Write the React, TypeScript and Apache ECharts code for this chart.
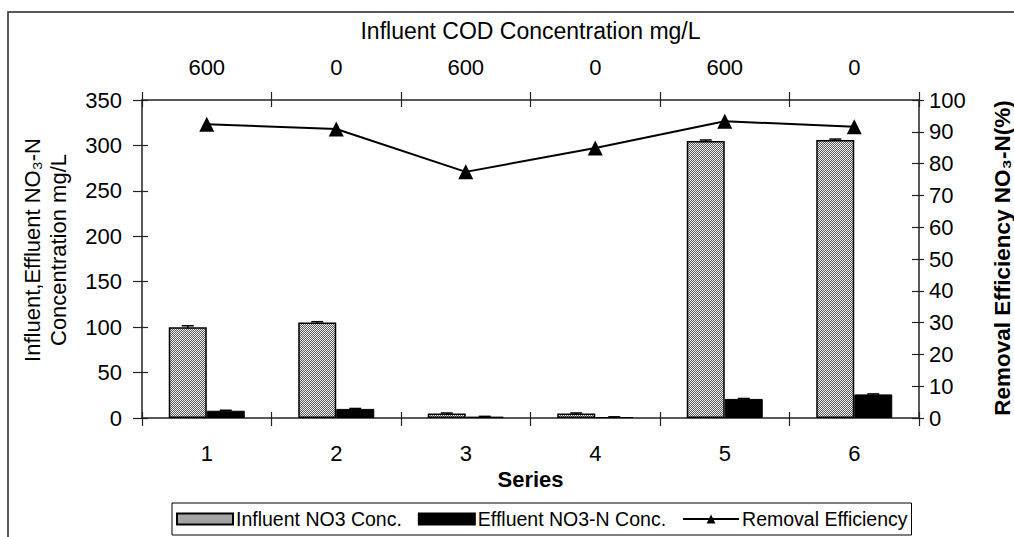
import React, { useEffect, useRef } from "react";
import * as echarts from "echarts";

const categories = ["1", "2", "3", "4", "5", "6"];
const codLabels = ["600", "0", "600", "0", "600", "0"];
const influent = [100, 105, 5, 5, 305, 306];
const effluent = [8, 10, 1.5, 1, 21, 26];
const removal = [92.4, 90.9, 77.4, 84.9, 93.3, 91.6];
const influentErr = [1.5, 1, 0.5, 0.5, 1, 1];
const effluentErr = [0.5, 0.5, 0.3, 0.3, 0.5, 0.5];

const FONT = "'Liberation Sans', Arial, sans-serif";

function makePattern() {
  const c = document.createElement("canvas");
  c.width = 2;
  c.height = 2;
  const ctx = c.getContext("2d")!;
  ctx.fillStyle = "#5a5a5a";
  ctx.fillRect(0, 0, 2, 2);
  ctx.fillStyle = "#f0f0f0";
  ctx.fillRect(0, 0, 1, 1);
  ctx.fillRect(1, 1, 1, 1);
  return c;
}

export default function App() {
  const ref = useRef<HTMLDivElement>(null);
  useEffect(() => {
    if (!ref.current) return;
    const chart = echarts.init(ref.current, null, { renderer: "svg" });
    const pattern: any = { image: makePattern(), repeat: "repeat", imageWidth: 2, imageHeight: 2 };
    const axisLine = { show: true, onZero: false, lineStyle: { color: "#222", width: 1.5 } };
    const noLine = { show: false, onZero: false };
    const tickStyle = { color: "#222", width: 1.2 };
    const errSeries = (vals: number[], errs: number[], offset: number) => ({
      type: "custom",
      xAxisIndex: 0,
      yAxisIndex: 0,
      silent: true,
      z: 5,
      data: vals.map((v, i) => [i, v, errs[i]]),
      renderItem: (params: any, api: any) => {
        const i = api.value(0);
        const v = api.value(1);
        const e = api.value(2);
        const top = api.coord([i, v + e]);
        const bot = api.coord([i, v - e]);
        const x = top[0] + offset;
        return {
          type: "group",
          children: [
            { type: "line", shape: { x1: x, y1: top[1], x2: x, y2: bot[1] }, style: { stroke: "#000", lineWidth: 1.5 } },
            { type: "line", shape: { x1: x - 6, y1: top[1], x2: x + 6, y2: top[1] }, style: { stroke: "#000", lineWidth: 1.5 } },
          ],
        };
      },
    });
    chart.setOption({
      animation: false,
      textStyle: { fontFamily: FONT, color: "#000" },
      grid: { left: 142, right: 95, top: 100, bottom: 119, containLabel: false },
      legend: {
        data: [
          { name: "Influent NO3 Conc.", icon: "rect" },
          { name: "Effluent NO3-N Conc.", icon: "rect" },
          { name: "Removal Efficiency" },
        ],
        left: 172,
        top: 503,
        orient: "horizontal",
        borderColor: "#000",
        borderWidth: 1,
        borderRadius: 0,
        padding: [6, 4, 6, 4],
        itemWidth: 56,
        itemHeight: 11,
        itemGap: 16,
        textStyle: { fontSize: 19.5, fontFamily: FONT, color: "#000", padding: [0, 0, 0, -2] },
      },
      xAxis: [
        {
          type: "category",
          data: categories,
          position: "bottom",
          axisLine,
          axisTick: { show: true, length: 8, lineStyle: tickStyle },
          axisLabel: { fontSize: 22, margin: 24, color: "#000", fontFamily: FONT },
          name: "Series",
          nameLocation: "middle",
          nameGap: 50,
          nameTextStyle: { fontSize: 22, fontWeight: "bold", color: "#000", fontFamily: FONT },
        },
        {
          type: "category",
          data: codLabels,
          position: "top",
          axisLine,
          axisTick: { show: true, length: 8, lineStyle: tickStyle },
          axisLabel: { fontSize: 22, margin: 22, color: "#000", fontFamily: FONT },
          name: "Influent COD Concentration mg/L",
          nameLocation: "middle",
          nameGap: 58,
          nameTextStyle: { fontSize: 23, color: "#000", fontFamily: FONT },
        },
        {
          type: "category",
          data: categories,
          position: "bottom",
          axisLine: noLine,
          axisTick: { show: true, inside: true, length: 6, lineStyle: tickStyle },
          axisLabel: { show: false },
        },
        {
          type: "category",
          data: codLabels,
          position: "top",
          axisLine: noLine,
          axisTick: { show: true, inside: true, length: 7, lineStyle: tickStyle },
          axisLabel: { show: false },
        },
      ],
      yAxis: [
        {
          type: "value",
          position: "left",
          min: 0,
          max: 350,
          interval: 50,
          axisLine,
          axisTick: { show: true, length: 9, lineStyle: tickStyle },
          axisLabel: { fontSize: 22, margin: 20, color: "#000", fontFamily: FONT },
          splitLine: { show: false },
        },
        {
          type: "value",
          position: "right",
          min: 0,
          max: 100,
          interval: 10,
          axisLine,
          axisTick: { show: true, length: 5, lineStyle: tickStyle },
          axisLabel: { fontSize: 22, margin: 10, color: "#000", fontFamily: FONT },
          splitLine: { show: false },
        },
        {
          type: "value",
          position: "left",
          min: 0,
          max: 350,
          interval: 50,
          axisLine: noLine,
          axisTick: { show: true, inside: true, length: 6, lineStyle: tickStyle },
          axisLabel: { show: false },
          splitLine: { show: false },
        },
        {
          type: "value",
          position: "right",
          min: 0,
          max: 100,
          interval: 10,
          axisLine: noLine,
          axisTick: { show: true, inside: true, length: 7, lineStyle: tickStyle },
          axisLabel: { show: false },
          splitLine: { show: false },
        },
      ],
      series: [
        {
          name: "Influent NO3 Conc.",
          type: "bar",
          xAxisIndex: 0,
          yAxisIndex: 0,
          data: influent,
          barWidth: 38,
          barGap: "0%",
          itemStyle: { color: pattern, borderColor: "#000", borderWidth: 1.5 },
        },
        {
          name: "Effluent NO3-N Conc.",
          type: "bar",
          xAxisIndex: 0,
          yAxisIndex: 0,
          data: effluent,
          barWidth: 38,
          barGap: "0%",
          itemStyle: { color: "#000", borderColor: "#000", borderWidth: 1 },
        },
        {
          name: "Removal Efficiency",
          type: "line",
          xAxisIndex: 0,
          yAxisIndex: 1,
          data: removal,
          symbol: "triangle",
          symbolSize: 15,
          z: 10,
          lineStyle: { color: "#000", width: 2 },
          itemStyle: { color: "#000" },
        },
        errSeries(influent, influentErr, -19),
        errSeries(effluent, effluentErr, 19),
      ],
      graphic: [
        {
          type: "rect",
          shape: { x: 8, y: 12, width: 1100, height: 600 },
          style: { fill: "none", stroke: "#222", lineWidth: 1.5 },
          silent: true,
          z: -1,
        },
        {
          type: "text",
          x: 45,
          y: 250,
          rotation: Math.PI / 2,
          style: {
            text: "Influent,Effluent NO₃-N\nConcentration mg/L",
            fontSize: 22,
            fontFamily: FONT,
            fill: "#000",
            align: "center",
            verticalAlign: "middle",
            lineHeight: 26,
          },
        },
        {
          type: "text",
          x: 1002,
          y: 258,
          rotation: Math.PI / 2,
          style: {
            text: "Removal Efficiency NO₃-N(%)",
            fontSize: 22.5,
            fontWeight: "bold",
            fontFamily: FONT,
            fill: "#000",
            align: "center",
            verticalAlign: "middle",
          },
        },
      ],
    });
    return () => chart.dispose();
  }, []);
  return (
    <div
      ref={ref}
      style={{ position: "absolute", left: 0, top: 0, width: 1014, height: 537, background: "#fff" }}
    />
  );
}
